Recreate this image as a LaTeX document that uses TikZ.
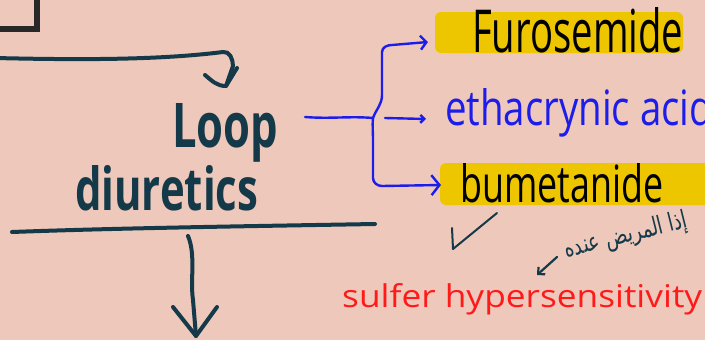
\documentclass[tikz,border=0pt]{standalone}
\usepackage{fontspec}
\usepackage{graphicx}
\setmainfont{Open Sans}
\newfontfamily\arabicfont[Script=Arabic]{DejaVu Sans}
\TeXXeTstate=1
\usetikzlibrary{arrows.meta}
\definecolor{bgpink}{RGB}{238,200,187}
\definecolor{teal}{RGB}{20,57,72}
\definecolor{penblue}{RGB}{28,28,235}
\definecolor{hiyellow}{RGB}{237,198,0}
\definecolor{penred}{RGB}{255,26,26}
\definecolor{boxgray}{RGB}{40,40,40}
\tikzset{
  txt/.style={inner sep=0pt, anchor=base west},
  tealline/.style={draw=teal, line width=4pt, line cap=round, line join=round},
  blueline/.style={draw=penblue, line width=2.4pt, line cap=round, line join=round},
  hilite/.style={fill=hiyellow, rounded corners=6pt},
}
\begin{document}
\begin{tikzpicture}[x=1pt,y=-1pt]
\fill[bgpink] (0,0) rectangle (705,340);
\useasboundingbox (0,0) rectangle (705,340);
% top-left box corner
\draw[boxgray, line width=6pt] (37,-5) -- (37,29) -- (-5,29);
% highlights
\fill[hilite] (435,12) rectangle (683,53);
\fill[hilite] (440,163) rectangle (712,205);
% texts
\node[txt, text=teal] (loop) at (172,147) {\resizebox{106pt}{44pt}{\bfseries Loop}};
\node[txt, text=teal] (diur) at (75,210) {\resizebox{183pt}{45pt}{\bfseries diuretics}};
\node[txt, text=black] (furo) at (472,52) {\resizebox{211pt}{45pt}{Furosemide}};
\node[txt, text=penblue] (etha) at (445,125) {\resizebox{268pt}{37pt}{ethacrynic acid}};
\node[txt, text=black] (bume) at (460,202) {\resizebox{203pt}{39pt}{bumetanide}};
\node[txt, text=penred] (sulf) at (342,307) {\resizebox{360pt}{24pt}{sulfer hypersensitivity}};
\node[inner sep=0pt, text=teal, rotate=14] (arab) at (626,236) {\resizebox{126pt}{19pt}{\arabicfont\beginR إذا المريض عنده\endR}};
% coordinates
\coordinate (topstart) at (-5,58);
\coordinate (hook) at (223,52);
\coordinate (hooktip) at (226,86);
\coordinate (underL) at (12,232);
\coordinate (underR) at (375,224);
\coordinate (downstart) at (188,236);
\coordinate (downend) at (196,336);
\coordinate (bstart) at (305,117);
\coordinate (junc) at (373,118);
\coordinate (tipF) at (428,42);
\coordinate (tipE) at (426,119);
\coordinate (tipB) at (441,185);
\coordinate (arrS) at (557,257);
\coordinate (arrE) at (537,275);
% top arrow with hook
\draw[tealline] (topstart) .. controls (80,60) and (160,60) .. (hook) to[out=10,in=90] (233,66) -- (hooktip);
\draw[tealline] (205,75) to[out=-40,in=180] (hooktip) -- (237,68);
% underline
\draw[tealline] (underL) .. controls (120,228) and (260,226) .. (underR);
% down arrow
\draw[tealline] (downstart) .. controls (196,255) and (190,280) .. (193,300) -- (downend);
\draw[tealline] (173,307) -- (downend) -- (217,307);
% blue brace
\draw[blueline] (bstart) .. controls (330,119) and (350,116) .. (junc);
\draw[blueline, -{Straight Barb[length=6pt,width=14pt]}] (junc) to[out=70,in=-90] (382,95) -- (382,52) to[out=90,in=180] (392,45) -- (tipF);
\draw[blueline, -{Straight Barb[length=4pt,width=8pt]}] (385,118) -- (tipE);
\draw[blueline, -{Straight Barb[length=8pt,width=20pt]}] (junc) to[out=-95,in=90] (373,140) -- (373,178) to[out=-90,in=180] (382,186) -- (tipB);
% check mark
\draw[draw=teal, line width=2pt, line cap=round, line join=round] (452,228) -- (453,249) -- (497,213);
% small arrow
\draw[draw=teal, line width=2.2pt, line cap=round, -{Straight Barb[length=5pt,width=10pt]}] (arrS) -- (arrE);
\end{tikzpicture}
\end{document}
